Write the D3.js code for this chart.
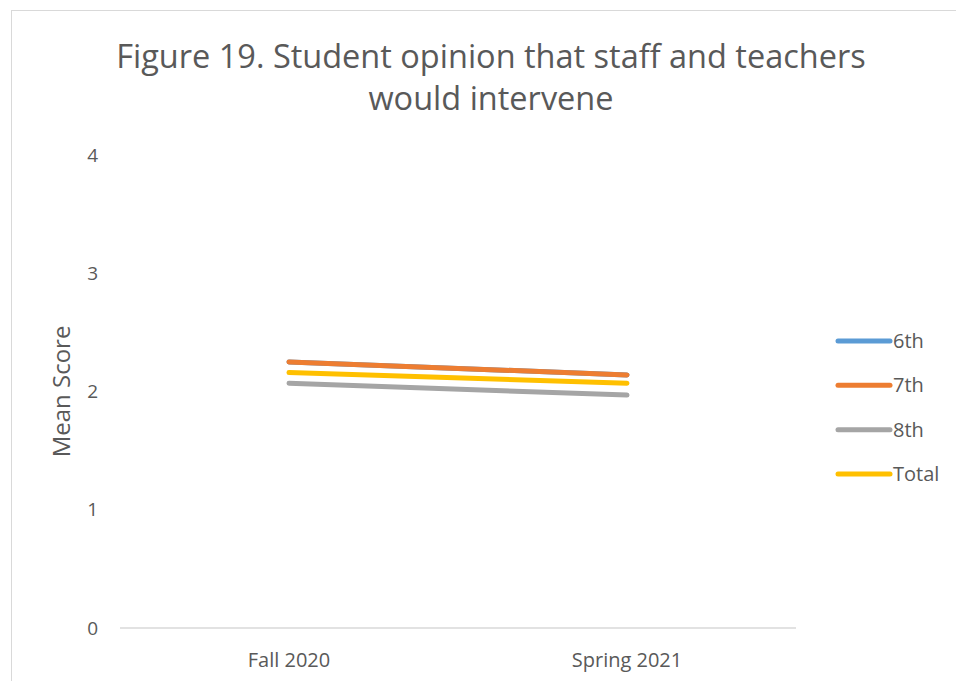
<!DOCTYPE html>
<html>
<head>
<meta charset="utf-8">
<script src="https://cdn.jsdelivr.net/npm/d3@7"></script>
<style>
  body { margin: 0; background: #fff; }
  text { font-family: "Open Sans", "Noto Sans", sans-serif; fill: #595959; }
</style>
</head>
<body>
<div id="chart"></div>
<script>
var categories = ["Fall 2020", "Spring 2021"];
var seriesNames = ["6th", "7th", "8th", "Total"];
var seriesColors = ["#5b9bd5", "#ed7d31", "#a5a5a5", "#ffc000"];
var values6th = [2.25, 2.14];
var values7th = [2.25, 2.14];
var values8th = [2.07, 1.97];
var valuesTotal = [2.16, 2.07];
var yTicks = [0, 1, 2, 3, 4];

var width = 956, height = 681;
var svg = d3.select("#chart").append("svg")
    .attr("width", width)
    .attr("height", height);

// chart frame (right and bottom edges fall outside the picture)
svg.append("rect")
    .attr("x", 11.5).attr("y", 10.5)
    .attr("width", 1000).attr("height", 1000)
    .attr("fill", "none")
    .attr("stroke", "#d9d9d9");

var xScale = d3.scaleBand()
    .domain(categories)
    .range([120, 796]);

var yScale = d3.scaleLinear()
    .domain([0, 4])
    .range([628, 155]);

// x axis line
svg.append("line")
    .attr("x1", 120).attr("x2", 796)
    .attr("y1", yScale(0)).attr("y2", yScale(0))
    .attr("stroke", "#d9d9d9")
    .attr("stroke-width", 1.3);

// y tick labels
svg.append("g").selectAll("text")
    .data(yTicks)
    .enter().append("text")
    .attr("x", 98)
    .attr("y", function (d) { return yScale(d); })
    .attr("dy", "0.35em")
    .attr("text-anchor", "end")
    .attr("font-size", 19)
    .text(function (d) { return d; });

// x tick labels
svg.append("g").selectAll("text")
    .data(categories)
    .enter().append("text")
    .attr("x", function (d) { return xScale(d) + xScale.bandwidth() / 2; })
    .attr("y", 660)
    .attr("dy", "0.35em")
    .attr("text-anchor", "middle")
    .attr("font-size", 20)
    .text(function (d) { return d; });

// y title
svg.append("text")
    .attr("transform", "translate(70," + yScale(2) + ") rotate(-90)")
    .attr("text-anchor", "middle")
    .attr("font-size", 24)
    .text("Mean Score");

// chart title
var title = svg.append("text")
    .attr("x", 491)
    .attr("text-anchor", "middle")
    .attr("font-size", 32.5);
title.append("tspan").attr("x", 491).attr("y", 68).text("Figure 19. Student opinion that staff and teachers");
title.append("tspan").attr("x", 491).attr("y", 110).text("would intervene");

var allSeries = [values6th, values7th, values8th, valuesTotal];
var drawOrder = [0, 1, 2, 3];

var line = d3.line()
    .x(function (d, i) { return xScale(categories[i]) + xScale.bandwidth() / 2; })
    .y(function (d) { return yScale(d); });

drawOrder.forEach(function (k) {
    svg.append("path")
        .attr("d", line(allSeries[k]))
        .attr("fill", "none")
        .attr("stroke", seriesColors[k])
        .attr("stroke-width", 5)
        .attr("stroke-linecap", "round");
});

// legend
var legendY = d3.scalePoint()
    .domain(seriesNames)
    .range([341, 474]);

var legend = svg.append("g");
seriesNames.forEach(function (name, i) {
    legend.append("line")
        .attr("x1", 838).attr("x2", 890)
        .attr("y1", legendY(name)).attr("y2", legendY(name))
        .attr("stroke", seriesColors[i])
        .attr("stroke-width", 5)
        .attr("stroke-linecap", "round");
    legend.append("text")
        .attr("x", 893)
        .attr("y", legendY(name))
        .attr("dy", "0.35em")
        .attr("font-size", 20)
        .text(name);
});
</script>
</body>
</html>
